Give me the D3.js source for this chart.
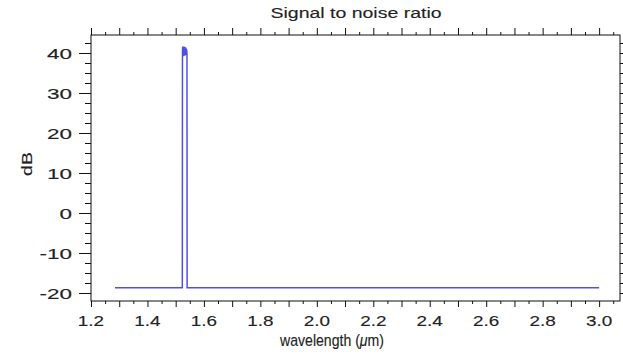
<!DOCTYPE html>
<html>
<head>
<meta charset="utf-8">
<script src="https://cdn.jsdelivr.net/npm/d3@7"></script>
<style>
  html, body { margin: 0; padding: 0; background: #fff; }
  text { font-family: "Liberation Sans", Arial, sans-serif; }
</style>
</head>
<body>
<svg id="chart" width="623" height="354"></svg>
<script>
// ---- data ----
const wavelength = [1.285, 1.5235, 1.5240, 1.5248, 1.5256, 1.5264, 1.5272, 1.5280, 1.5288, 1.5296, 1.5304, 1.5312, 1.5320, 1.5328, 1.5336, 1.5344, 1.5352, 1.5360, 1.5368, 1.5376, 1.5384, 1.5392, 1.5400, 1.5405, 3.0];
const snrDb      = [-18.7, -18.7, 40.2, 41.6, 39.3, 41.5, 39.2, 41.4, 39.4, 41.6, 39.3, 41.3, 39.5, 41.5, 39.4, 41.2, 39.6, 41.3, 39.5, 41.0, 39.6, 40.8, 39.7, -18.7, -18.7];

const xDomain = [1.2, 3.074];
const yDomain = [-22, 44.5];
const xLabelTicks = [1.2, 1.4, 1.6, 1.8, 2.0, 2.2, 2.4, 2.6, 2.8, 3.0];
const yLabelTicks = [-20, -10, 0, 10, 20, 30, 40];

const titleText = "Signal to noise ratio";
const yTitle = "dB";

// ---- layout ----
const svg = d3.select("#chart");
const mLeft = 91, mRight = 620, mTop = 35, mBottom = 301;

const x = d3.scaleLinear().domain(xDomain).range([mLeft, mRight]);
const y = d3.scaleLinear().domain(yDomain).range([mBottom, mTop]);

const xMajor = d3.range(12, 31).map(d => d / 10);          // every 0.1
const xMinor = d3.range(24, 62, 2).map(d => (d + 1) / 20);  // x.x5 positions
const yMajor = yLabelTicks;
const yMinor = d3.range(-20, 45, 2.5).filter(v => v % 10 !== 0 && v <= 44.5 && v >= -22);

function styleAxis(g) {
  g.select(".domain").remove();
  g.selectAll("line").attr("stroke", "#111").attr("stroke-width", 1);
  g.selectAll("text").remove();
}

// stretched text helper (reference text is horizontally widened)
function wideText(px, py, str, size, sx, anchor, rot) {
  return svg.append("text")
    .attr("transform", `translate(${px},${py})${rot ? " rotate(" + rot + ")" : ""} scale(${sx},1)`)
    .attr("text-anchor", anchor)
    .attr("font-size", size)
    .attr("fill", "#222")
    .attr("stroke", "#222").attr("stroke-width", 0.12)
    .text(str);
}

// bottom axis
svg.append("g").attr("transform", `translate(0,${mBottom})`)
  .call(d3.axisBottom(x).tickValues(xMajor).tickSize(6))
  .call(styleAxis);
svg.append("g").attr("transform", `translate(0,${mBottom})`)
  .call(d3.axisBottom(x).tickValues(xMinor).tickSize(3))
  .call(styleAxis);
// top axis
svg.append("g").attr("transform", `translate(0,${mTop})`)
  .call(d3.axisTop(x).tickValues(xMajor).tickSize(7))
  .call(styleAxis);
svg.append("g").attr("transform", `translate(0,${mTop})`)
  .call(d3.axisTop(x).tickValues(xMinor).tickSize(3))
  .call(styleAxis);
// left axis
svg.append("g").attr("transform", `translate(${mLeft},0)`)
  .call(d3.axisLeft(y).tickValues(yMajor).tickSize(12))
  .call(styleAxis);
svg.append("g").attr("transform", `translate(${mLeft},0)`)
  .call(d3.axisLeft(y).tickValues(yMinor).tickSize(6))
  .call(styleAxis);
// right axis
svg.append("g").attr("transform", `translate(${mRight},0)`)
  .call(d3.axisRight(y).tickValues(yMajor).tickSize(6))
  .call(styleAxis);
svg.append("g").attr("transform", `translate(${mRight},0)`)
  .call(d3.axisRight(y).tickValues(yMinor).tickSize(3))
  .call(styleAxis);

// tick labels
xLabelTicks.forEach(v => wideText(x(v), 326, d3.format(".1f")(v), 14, 1.35, "middle"));
yLabelTicks.forEach(v => wideText(72, y(v) + 5.5, (v < 0 ? "-" + Math.abs(v) : String(v)), 15, 1.5, "end"));

// frame
svg.append("rect")
  .attr("x", mLeft).attr("y", mTop)
  .attr("width", mRight - mLeft).attr("height", mBottom - mTop)
  .attr("fill", "none").attr("stroke", "#111").attr("stroke-width", 1);

// data line
const pts = wavelength.map((w, i) => [w, snrDb[i]]);
svg.append("path")
  .datum(pts)
  .attr("fill", "none")
  .attr("stroke", "#5050e6")
  .attr("stroke-width", 1.5)
  .attr("stroke-linejoin", "miter")
  .attr("d", d3.line().x(d => x(d[0])).y(d => y(d[1])));

// title
wideText(356, 18, titleText, 15, 1.3, "middle");

// y title
wideText(32, 164, yTitle, 15, 1.3, "middle", -90);

// x title
const xt = svg.append("text")
  .attr("transform", "translate(332,346) scale(0.88,1)")
  .attr("text-anchor", "middle").attr("font-size", 16).attr("fill", "#222")
  .attr("stroke", "#222").attr("stroke-width", 0.12);
xt.append("tspan").text("wavelength (");
xt.append("tspan").attr("font-style", "italic").text("\u03bc");
xt.append("tspan").text("m)");
</script>
</body>
</html>
